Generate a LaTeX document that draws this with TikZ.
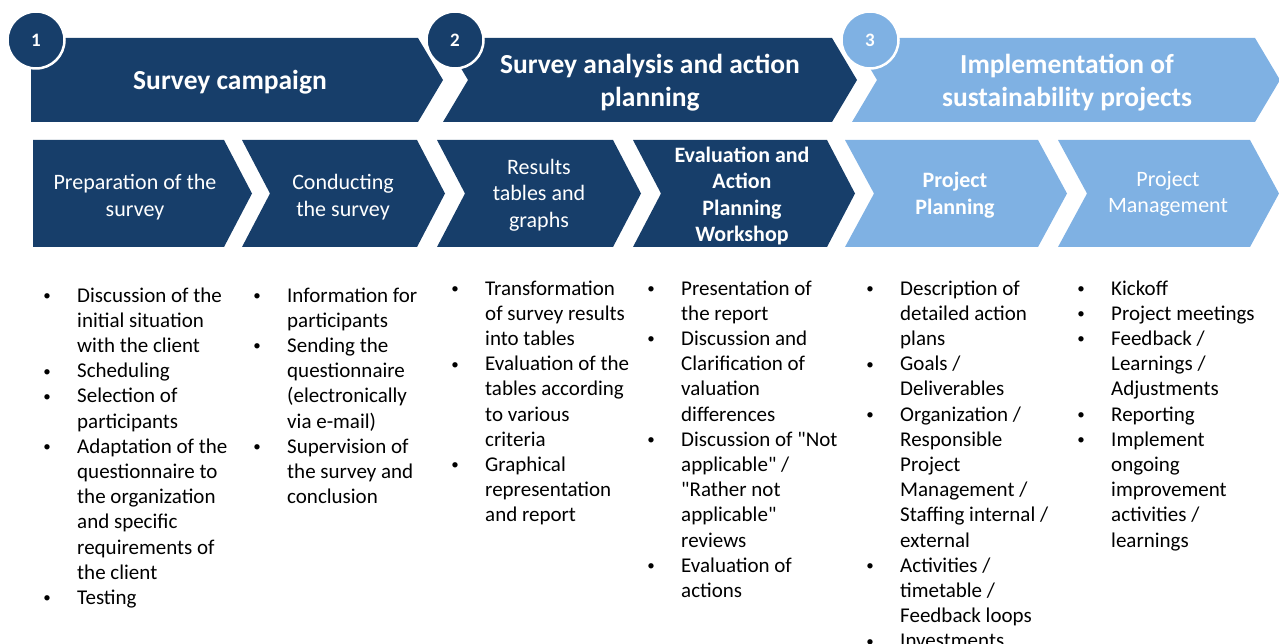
\documentclass[tikz,border=0pt]{standalone}
\usepackage{fontspec}
\setmainfont{Carlito}
\definecolor{navy}{RGB}{23,62,106}
\definecolor{sky}{RGB}{127,177,227}

% chevron without a notch: colour, left, right, top, bottom, tip depth
\newcommand\flatchev[6]{%
  \fill[#1] (#2,#4) -- (#3,#4) -- ({#3+#6},{(#4+#5)/2}) -- (#3,#5) -- (#2,#5) -- cycle;}
% chevron with a notch on its left side
\newcommand\notchchev[6]{%
  \fill[#1] (#2,#4) -- (#3,#4) -- ({#3+#6},{(#4+#5)/2}) -- (#3,#5) -- (#2,#5)
    -- ({#2+#6},{(#4+#5)/2}) -- cycle;}
% small bullet centred on the left edge of a 30pt wide cell
\newcommand\listdot{\makebox[30pt][l]{\makebox[0pt]{\raisebox{1.5pt}{\fontsize{15}{15}\selectfont •}}}}
\newcommand\dq{\textquotedbl}

\begin{document}
\begin{tikzpicture}[x=1pt,y=-1pt,
  phase/.style={text=white,font=\fontsize{27.5}{33}\selectfont\bfseries,align=center,inner sep=0},
  stage/.style={text=white,font=\fontsize{22}{26.4}\selectfont,align=center,inner sep=0},
  badge/.style={circle,minimum size=57,draw=white,line width=2.5,text=white,
                font=\fontsize{19}{19}\selectfont\bfseries,inner sep=0},
  items/.style={anchor=base west,inner sep=0,font=\fontsize{21}{25.2}\selectfont,text=black}]
\useasboundingbox (0,0) rectangle (1279,644);
\clip (0,0) rectangle (1279,644);

% phase chevrons
\flatchev{navy}{31}{418}{38}{122}{25}
\notchchev{navy}{443}{832}{38}{122}{25}
\notchchev{sky}{852}{1255}{38}{122}{25}

% stage chevrons
\flatchev{navy}{33}{224}{140}{247}{28}
\notchchev{navy}{242}{417}{140}{247}{28}
\notchchev{navy}{437}{613}{140}{247}{28}
\notchchev{navy}{633}{827}{140}{247}{28}
\notchchev{sky}{845}{1038}{140}{247}{29}
\notchchev{sky}{1058}{1250}{140}{247}{29}

% phase titles
\node[phase] (p1) at (230,82) {Survey campaign};
\node[phase] (p2) at (650,83) {Survey analysis and action\\planning};
\node[phase] (p3) at (1067,83) {Implementation of\\sustainability projects};

% numbered badges
\node[badge,fill=navy] (n1) at (36,40) {1};
\node[badge,fill=navy] (n2) at (455,40) {2};
\node[badge,fill=sky] (n3) at (870,40) {3};

% stage labels
\node[stage] (s1) at (135,197) {Preparation of the\\survey};
\node[stage] (s2) at (343,197) {Conducting\\the survey};
\node[stage] (s3) at (539,195) {Results\\tables and\\graphs};
\node[stage,font=\fontsize{22}{26.4}\selectfont\bfseries] (s4) at (742,196) {Evaluation and\\Action\\Planning\\Workshop};
\node[stage,font=\fontsize{22}{26.4}\selectfont\bfseries] (s5) at (955,195) {Project\\Planning};
\node[stage] (s6) at (1168,194) {Project\\Management};

% activity lists
\node[items] (l1) at (47,302) {\begin{tabular}[t]{@{}l@{}l@{}}
\listdot & Discussion of the\\ & initial situation\\ & with the client\\
\listdot & Scheduling\\
\listdot & Selection of\\ & participants\\
\listdot & Adaptation of the\\ & questionnaire to\\ & the organization\\ & and specific\\ & requirements of\\ & the client\\
\listdot & Testing
\end{tabular}};
\node[items] (l2) at (257,302) {\begin{tabular}[t]{@{}l@{}l@{}}
\listdot & Information for\\ & participants\\
\listdot & Sending the\\ & questionnaire\\ & (electronically\\ & via e-mail)\\
\listdot & Supervision of\\ & the survey and\\ & conclusion
\end{tabular}};
\node[items] (l3) at (455,295) {\begin{tabular}[t]{@{}l@{}l@{}}
\listdot & Transformation\\ & of survey results\\ & into tables\\
\listdot & Evaluation of the\\ & tables according\\ & to various\\ & criteria\\
\listdot & Graphical\\ & representation\\ & and report
\end{tabular}};
\node[items] (l4) at (651,295) {\begin{tabular}[t]{@{}l@{}l@{}}
\listdot & Presentation of\\ & the report\\
\listdot & Discussion and\\ & Clarification of\\ & valuation\\ & differences\\
\listdot & Discussion of \dq Not\\ & applicable\dq{} /\\ & \dq Rather not\\ & applicable\dq\\ & reviews\\
\listdot & Evaluation of\\ & actions
\end{tabular}};
\node[items] (l5) at (870,295) {\begin{tabular}[t]{@{}l@{}l@{}}
\listdot & Description of\\ & detailed action\\ & plans\\
\listdot & Goals /\\ & Deliverables\\
\listdot & Organization /\\ & Responsible\\ & Project\\ & Management /\\ & Staffing internal /\\ & external\\
\listdot & Activities /\\ & timetable /\\ & Feedback loops\\
\listdot & Investments
\end{tabular}};
\node[items] (l6) at (1081,295) {\begin{tabular}[t]{@{}l@{}l@{}}
\listdot & Kickoff\\
\listdot & Project meetings\\
\listdot & Feedback /\\ & Learnings /\\ & Adjustments\\
\listdot & Reporting\\
\listdot & Implement\\ & ongoing\\ & improvement\\ & activities /\\ & learnings
\end{tabular}};
\end{tikzpicture}
\end{document}
